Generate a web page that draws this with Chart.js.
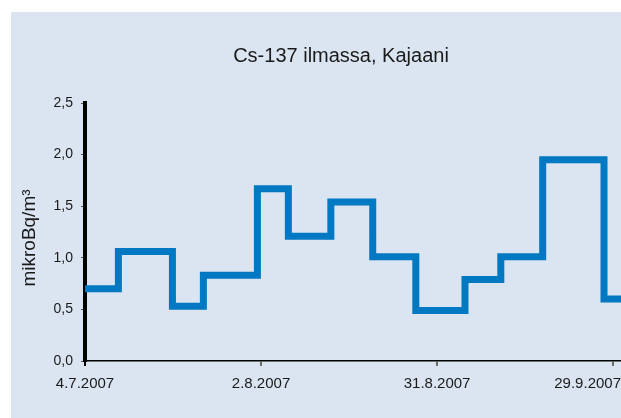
<!DOCTYPE html>
<html>
<head>
<meta charset="utf-8">
<script src="https://cdn.jsdelivr.net/npm/chart.js@4.4.0/dist/chart.umd.min.js"></script>
<style>
  body { margin: 0; background: #fff; }
  #wrap { position: relative; width: 621px; height: 418px; }
</style>
</head>
<body>
<div id="wrap"><canvas id="stepchart" width="621" height="418"></canvas></div>
<script>
// measurement periods, days counted from 4.7.2007
const stepStart = [0, 5.5, 14.4, 19.5, 28.4, 33.5, 40.5, 47.4, 54.5, 62.6, 68.5, 75.4, 85.5];
const stepValue = [0.70, 1.06, 0.53, 0.83, 1.67, 1.21, 1.54, 1.01, 0.49, 0.79, 1.01, 1.95, 0.60];
const lastEnd = 89; // last period runs past the right edge

const tickDays = [0, 29, 58, 87];
const tickLabels = ['4.7.2007', '2.8.2007', '31.8.2007', '29.9.2007'];

const chartTitle = 'Cs-137 ilmassa, Kajaani';
const yTitle = 'mikroBq/m\u00B3';

const FONT = "'Liberation Sans', Arial, sans-serif";

// background panel + title + axis texts
const decor = {
  id: 'decor',
  beforeDraw(chart) {
    const c = chart.ctx;
    c.save();
    c.fillStyle = '#ffffff';
    c.fillRect(0, 0, chart.width, chart.height);
    c.fillStyle = '#dbe5f1';
    c.fillRect(11, 12, chart.width - 11, chart.height - 12);
    c.restore();
  },
  afterDraw(chart) {
    const c = chart.ctx;
    c.save();
    c.fillStyle = '#1a1a1a';
    c.font = '20px ' + FONT;
    c.textAlign = 'center';
    c.textBaseline = 'middle';
    c.fillText(chartTitle, 341, 56);

    // date labels under the x axis, kept inside the canvas
    const xs = chart.scales.x;
    c.font = '15px ' + FONT;
    tickDays.forEach(function (d, i) {
      const w = c.measureText(tickLabels[i]).width;
      let px = xs.getPixelForValue(d);
      px = Math.min(px, chart.width - w / 2);
      c.fillText(tickLabels[i], px, 384);
    });

    // unit label, rotated, a bit below the middle of the axis
    c.font = '19px ' + FONT;
    c.translate(30, 238);
    c.rotate(-Math.PI / 2);
    c.fillText(yTitle, 0, 0);
    c.restore();
  }
};

document.addEventListener("DOMContentLoaded", function () {
const ctx = document.getElementById('stepchart');
if(ctx){
new Chart(ctx, {
  type: 'line',
  data: {
    datasets: [{
      label: 'Cs-137',
      data: stepStart.map(function (d, i) { return {x: d, y: stepValue[i]}; })
            .concat([{x: lastEnd, y: stepValue[stepValue.length - 1]}]),
      stepped: true,
      borderColor: '#0078c2',
      borderWidth: 7,
      borderJoinStyle: 'miter',
      pointRadius: 0,
      fill: false
    }]
  },
  options: {
    responsive: false,
    animation: false,
    devicePixelRatio: 1,
    layout: { padding: { top: 103, left: 0, right: 0, bottom: 0 } },
    plugins: {
      legend: { display: false },
      tooltip: { enabled: false },
      title: { display: false }
    },
    scales: {
      x: {
        type: 'linear',
        min: 0,
        max: 88.3,
        z: 1,
        afterBuildTicks: function (scale) {
          scale.ticks = tickDays.map(function (d) { return {value: d}; });
        },
        afterFit: function (scale) { scale.height = 57; },
        ticks: { display: false },
        border: { display: true, color: '#000', width: 1.4 },
        grid: {
          drawOnChartArea: false,
          drawTicks: true,
          tickLength: 5,
          tickWidth: 2,
          tickColor: function (c) { return c.index === 0 ? '#000' : '#6b6b6b'; },
          lineWidth: function (c) { return c.index === 0 ? 4 : 2; }
        }
      },
      y: {
        min: 0,
        max: 2.5,
        z: 1,
        afterFit: function (scale) { scale.width = 85; },
        ticks: {
          stepSize: 0.5,
          padding: 8,
          color: '#1a1a1a',
          font: { family: FONT, size: 14 },
          callback: function (v) { return v.toFixed(1).replace('.', ','); }
        },
        title: { display: false },
        border: { display: true, color: '#000', width: 4 },
        grid: {
          drawOnChartArea: false,
          drawTicks: true,
          tickLength: 4,
          tickColor: '#555',
          lineWidth: 1
        }
      }
    }
  },
  plugins: [decor]
});}
else{
  console.error('canvas elemet with ID "stepchart" not found');
}});
</script>
</body>
</html>
